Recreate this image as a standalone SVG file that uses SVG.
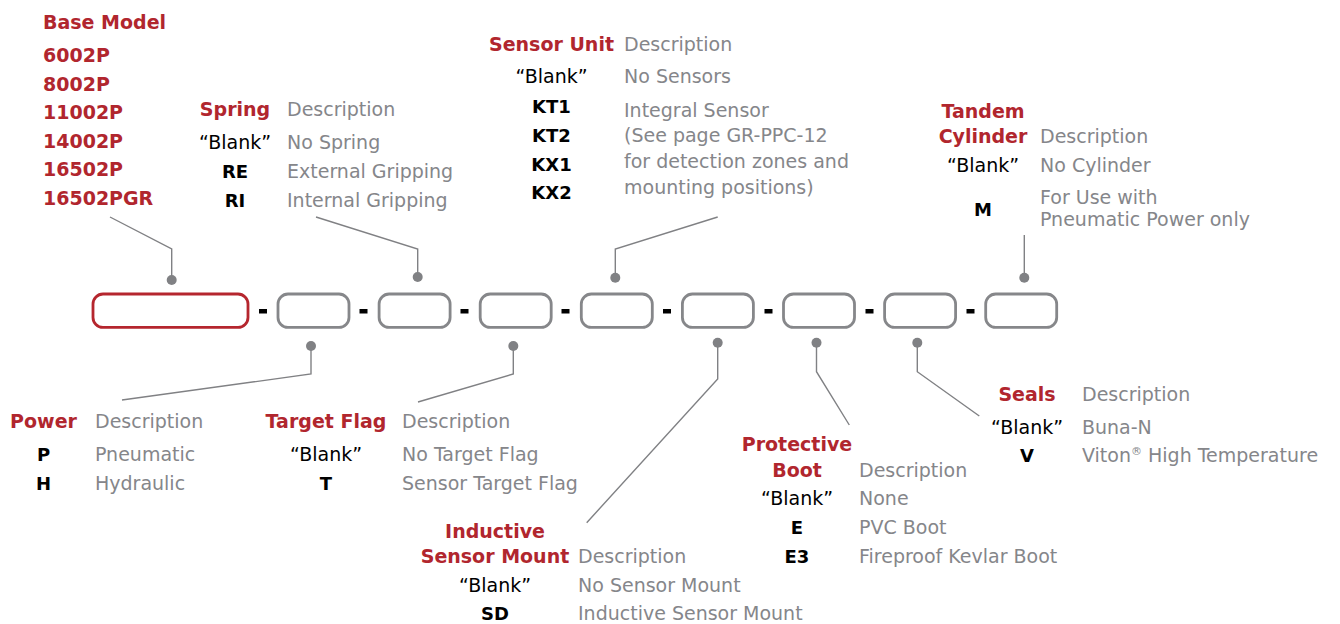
<svg xmlns="http://www.w3.org/2000/svg" width="1340" height="624" viewBox="0 0 1340 624">
<style>
.h{font-family:"DejaVu Sans",sans-serif;font-weight:bold;font-size:19px;fill:#b1262e;text-anchor:middle}
.bm{font-family:"DejaVu Sans",sans-serif;font-weight:bold;font-size:19px;fill:#b1262e}
.d{font-family:"DejaVu Sans",sans-serif;font-size:19px;fill:#85868a}
.k{font-family:"DejaVu Sans",sans-serif;font-weight:bold;font-size:18px;fill:#000;text-anchor:middle}
.b{font-family:"DejaVu Sans",sans-serif;font-size:19px;fill:#000;text-anchor:middle}
.box{fill:#fff;stroke:#86878a;stroke-width:2.8}
.base{fill:#fff;stroke:#b5262e;stroke-width:2.8}
.dash{fill:#000}
.ln{fill:none;stroke:#808184;stroke-width:1.4}
.dot{fill:#808184}
</style>
<g id="connectors">
<polyline class="ln" points="110,217 171.7,249 171.7,280"/>
<polyline class="ln" points="316,217 417.7,249 417.7,277"/>
<polyline class="ln" points="717.7,217 615.3,249 615.3,277.7"/>
<polyline class="ln" points="1024.3,235 1024.3,277.7"/>
<polyline class="ln" points="122,400 311,374 311,346"/>
<polyline class="ln" points="418,402 513.3,374 513.3,346"/>
<polyline class="ln" points="586.7,522.7 717.7,379 717.7,342.7"/>
<polyline class="ln" points="849.3,425 816.5,371.7 816.5,342.7"/>
<polyline class="ln" points="979.3,416 917.3,371.7 917.3,342.7"/>
<circle class="dot" cx="171.7" cy="280" r="5"/>
<circle class="dot" cx="417.7" cy="277" r="5"/>
<circle class="dot" cx="615.3" cy="277.7" r="5"/>
<circle class="dot" cx="1024.3" cy="277.7" r="5"/>
<circle class="dot" cx="311" cy="346" r="5"/>
<circle class="dot" cx="513.3" cy="346" r="5"/>
<circle class="dot" cx="717.7" cy="342.7" r="5"/>
<circle class="dot" cx="816.5" cy="342.7" r="5"/>
<circle class="dot" cx="917.3" cy="342.7" r="5"/>
</g>
<g id="boxes">
<rect class="base" x="93" y="294" width="155" height="33.4" rx="10"/>
<rect class="box" x="278" y="294" width="71" height="33.4" rx="10"/>
<rect class="box" x="379.1" y="294" width="71" height="33.4" rx="10"/>
<rect class="box" x="480.2" y="294" width="71" height="33.4" rx="10"/>
<rect class="box" x="581.3" y="294" width="71" height="33.4" rx="10"/>
<rect class="box" x="682.4" y="294" width="71" height="33.4" rx="10"/>
<rect class="box" x="783.5" y="294" width="71" height="33.4" rx="10"/>
<rect class="box" x="884.6" y="294" width="71" height="33.4" rx="10"/>
<rect class="box" x="985.7" y="294" width="71" height="33.4" rx="10"/>
<rect class="dash" x="259" y="309" width="8" height="4.5"/>
<rect class="dash" x="359.5" y="309" width="8" height="4.5"/>
<rect class="dash" x="460.5" y="309" width="8" height="4.5"/>
<rect class="dash" x="561.5" y="309" width="8" height="4.5"/>
<rect class="dash" x="663" y="309" width="8" height="4.5"/>
<rect class="dash" x="764.5" y="309" width="8" height="4.5"/>
<rect class="dash" x="865.5" y="309" width="8" height="4.5"/>
<rect class="dash" x="966.5" y="309" width="8" height="4.5"/>
</g>
<g id="base-model">
<text class="bm" x="43" y="29" font-size="19.5">Base Model</text>
<text class="bm" x="43" y="62">6002P</text>
<text class="bm" x="43" y="90.7">8002P</text>
<text class="bm" x="43" y="119">11002P</text>
<text class="bm" x="43" y="147.5">14002P</text>
<text class="bm" x="43" y="176">16502P</text>
<text class="bm" x="43" y="205">16502PGR</text>
</g>
<g id="spring">
<text class="h" x="235" y="115.7">Spring</text>
<text class="d" x="287" y="115.7">Description</text>
<text class="b" x="235" y="148.5">“Blank”</text>
<text class="d" x="287" y="148.5">No Spring</text>
<text class="k" x="235" y="177.5">RE</text>
<text class="d" x="287" y="177.5">External Gripping</text>
<text class="k" x="235" y="206.5">RI</text>
<text class="d" x="287" y="206.5">Internal Gripping</text>
</g>
<g id="sensor-unit">
<text class="h" x="551.5" y="50.7">Sensor Unit</text>
<text class="d" x="624" y="50.7">Description</text>
<text class="b" x="551.5" y="83.3">“Blank”</text>
<text class="d" x="624" y="83.3">No Sensors</text>
<text class="k" x="551.5" y="113.3">KT1</text>
<text class="k" x="551.5" y="141.7">KT2</text>
<text class="k" x="551.5" y="170.7">KX1</text>
<text class="k" x="551.5" y="199">KX2</text>
<text class="d" x="624" y="117.3">Integral Sensor</text>
<text class="d" x="624" y="142">(See page GR-PPC-12</text>
<text class="d" x="624" y="167.7">for detection zones and</text>
<text class="d" x="624" y="194">mounting positions)</text>
</g>
<g id="tandem-cylinder">
<text class="h" x="983" y="118.3">Tandem</text>
<text class="h" x="983" y="143.3">Cylinder</text>
<text class="d" x="1040" y="143.3">Description</text>
<text class="b" x="983" y="171.7">“Blank”</text>
<text class="d" x="1040" y="171.7">No Cylinder</text>
<text class="k" x="983" y="215.7">M</text>
<text class="d" x="1040" y="204.3">For Use with</text>
<text class="d" x="1040" y="225.5">Pneumatic Power only</text>
</g>
<g id="power">
<text class="h" x="43.5" y="428">Power</text>
<text class="d" x="95" y="428">Description</text>
<text class="k" x="43.5" y="461">P</text>
<text class="d" x="95" y="461">Pneumatic</text>
<text class="k" x="43.5" y="490">H</text>
<text class="d" x="95" y="490">Hydraulic</text>
</g>
<g id="target-flag">
<text class="h" x="326" y="428">Target Flag</text>
<text class="d" x="402" y="428">Description</text>
<text class="b" x="326" y="461">“Blank”</text>
<text class="d" x="402" y="461">No Target Flag</text>
<text class="k" x="326" y="490">T</text>
<text class="d" x="402" y="490">Sensor Target Flag</text>
</g>
<g id="inductive-sensor-mount">
<text class="h" x="495" y="537.5">Inductive</text>
<text class="h" x="495" y="562.5">Sensor Mount</text>
<text class="d" x="578" y="562.5">Description</text>
<text class="b" x="495" y="591.5">“Blank”</text>
<text class="d" x="578" y="591.5">No Sensor Mount</text>
<text class="k" x="495" y="620">SD</text>
<text class="d" x="578" y="620">Inductive Sensor Mount</text>
</g>
<g id="protective-boot">
<text class="h" x="797" y="450.5">Protective</text>
<text class="h" x="797" y="476.7">Boot</text>
<text class="d" x="859" y="476.7">Description</text>
<text class="b" x="797" y="504.5">“Blank”</text>
<text class="d" x="859" y="504.5">None</text>
<text class="k" x="797" y="533.5">E</text>
<text class="d" x="859" y="533.5">PVC Boot</text>
<text class="k" x="797" y="562.5">E3</text>
<text class="d" x="859" y="562.5">Fireproof Kevlar Boot</text>
</g>
<g id="seals">
<text class="h" x="1027" y="401">Seals</text>
<text class="d" x="1082" y="401">Description</text>
<text class="b" x="1027" y="433.5">“Blank”</text>
<text class="d" x="1082" y="433.5">Buna-N</text>
<text class="k" x="1027" y="462">V</text>
<text class="d" x="1082" y="462">Viton<tspan font-size="11" dy="-7">®</tspan><tspan dy="7"> High Temperature</tspan></text>
</g>
</svg>
